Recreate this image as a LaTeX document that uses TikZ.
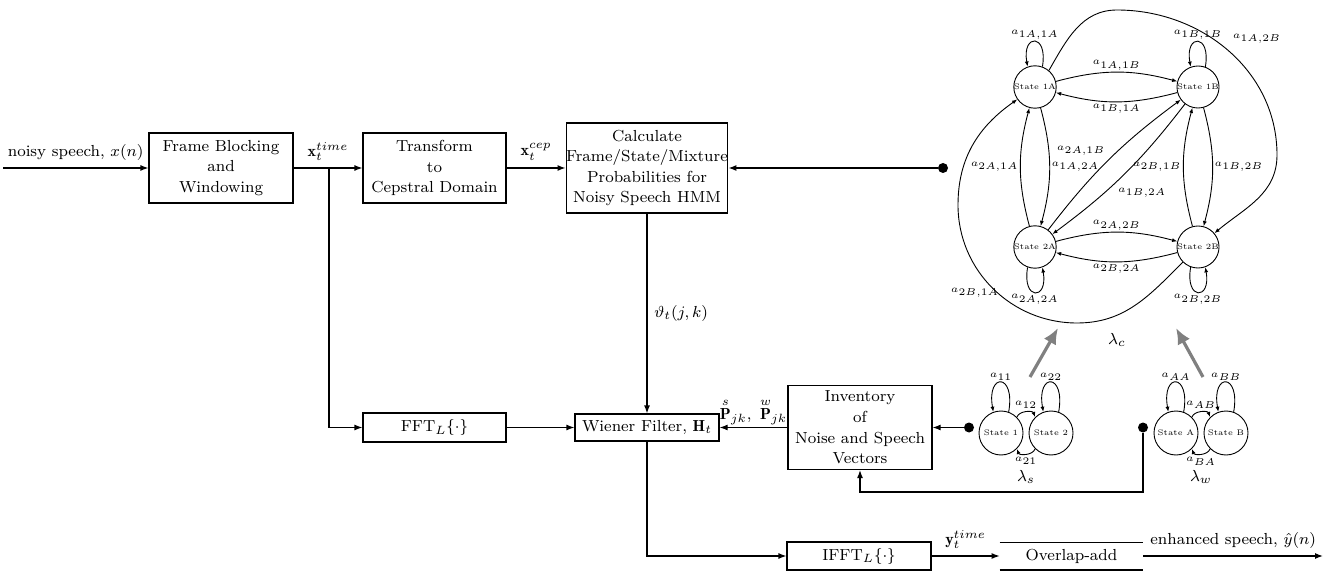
\documentclass[tikz,border=0pt]{standalone}
\usepackage{amsmath}
\usepackage{fontspec}
\usetikzlibrary{arrows.meta}
\begin{document}
\begin{tikzpicture}[x=0.5pt,y=0.5pt,
  mf/.style={font=\fontsize{8}{10.3}\selectfont},
  box/.style={draw, line width=0.6pt, align=center, inner sep=0pt, mf},
  arr/.style={line width=0.6pt, -{Latex[length=4pt,width=3pt]}},
  ln/.style={line width=0.6pt},
  dot/.style={circle, fill, inner sep=0pt, minimum size=5pt},
  st/.style={circle, draw, line width=0.45pt, minimum size=19pt, inner sep=0pt, font=\fontsize{4}{5}\selectfont},
  sst/.style={st, minimum size=22pt},
  tl/.style={font=\fontsize{5.5}{6}\selectfont, inner sep=0.8pt},
  stl/.style={font=\fontsize{5}{6}\selectfont, inner sep=0.6pt},
  harr/.style={line width=0.45pt, -{Latex[length=2.6pt,width=2pt]}},
  garr/.style={line width=1.6pt, black!50, -{Latex[length=8pt,width=7pt]}},
]
\useasboundingbox (0,0) rectangle (1328,-572);

% main blocks
\node[box, minimum width=72pt, minimum height=35pt] (frame) at (221,-168) {Frame Blocking\\and\\Windowing};
\node[box, minimum width=71.5pt, minimum height=35pt] (trans) at (434.5,-168) {Transform\\to\\Cepstral Domain};
\node[box, minimum width=80pt, minimum height=45pt] (calc) at (647,-168) {Calculate\\Frame/State/Mixture\\Probabilities for\\Noisy Speech HMM};
\node[box, minimum width=71.5pt, minimum height=14.5pt] (fft) at (434.5,-427.5) {FFT$_L\{\cdot\}$};
\node[box, minimum width=72pt, minimum height=13.5pt] (wien) at (647,-427.5) {Wiener Filter, $\mathbf{H}_t$};
\node[box, minimum width=72pt, minimum height=42pt] (inv) at (860,-427.5) {Inventory\\of\\Noise and Speech\\Vectors};
\node[box, minimum width=72pt, minimum height=14pt] (ifft) at (859,-556) {IFFT$_L\{\cdot\}$};
\node[mf, minimum width=71.5pt, minimum height=13.5pt, inner sep=0pt] (ola) at (1071.5,-556) {Overlap-add};

\coordinate (in) at (3,-168);
\coordinate (br) at (329,-168);
\node[dot] (d1) at (943,-168) {};
\node[dot] (d2) at (969,-427.5) {};
\node[dot] (d3) at (1143,-427.5) {};
\coordinate (fb) at (1143,-492);
\coordinate (out) at (1323,-556);

% connectors
\draw[arr] (in) -- node[above,mf]{noisy speech, $x(n)$} (frame);
\draw[arr] (frame) -- node[above,mf]{$\mathbf{x}_t^{time}$} (trans);
\draw[arr] (trans) -- node[above,mf]{$\mathbf{x}_t^{cep}$} (calc);
\draw[arr] (d1) -- (calc);
\draw[arr] (calc) -- node[right,mf]{$\vartheta_t(j,k)$} (wien);
\draw[arr] (br) |- (fft);
\draw[arr] (fft) -- (wien);
\draw[arr] (inv) -- node[above,mf,inner sep=1pt]{$\overset{s}{\mathbf{P}}_{jk},\ \overset{w}{\mathbf{P}}_{jk}$} (wien);
\draw[arr] (d2) -- (inv);
\draw[arr] (d3) -- (fb) -| (inv);
\draw[arr] (wien) |- (ifft);
\draw[arr] (ifft) -- node[above,mf]{$\mathbf{y}_t^{time}$} (ola);
\draw[arr] (ola) -- node[above,mf]{enhanced speech, $\hat{y}(n)$} (out);
\draw[ln] (ola.north west) -- (ola.north east) (ola.south west) -- (ola.south east);

% big HMM
\node[st] (A1) at (1035,-87) {State 1A};
\node[st] (B1) at (1198,-87) {State 1B};
\node[st] (A2) at (1035,-247) {State 2A};
\node[st] (B2) at (1198,-247) {State 2B};

\draw[harr] (A1) to[bend left=15] node[tl,above]{$a_{1A,1B}$} (B1);
\draw[harr] (B1) to[bend left=15] node[tl,below]{$a_{1B,1A}$} (A1);
\draw[harr] (A2) to[bend left=15] node[tl,above]{$a_{2A,2B}$} (B2);
\draw[harr] (B2) to[bend left=15] node[tl,below]{$a_{2B,2A}$} (A2);
\draw[harr] (A2) to[bend left=15] node[tl,left]{$a_{2A,1A}$} (A1);
\draw[harr] (A1) to[bend left=15] node[tl,right]{$a_{1A,2A}$} (A2);
\draw[harr] (B2) to[bend left=15] node[tl,left]{$a_{2B,1B}$} (B1);
\draw[harr] (B1) to[bend left=15] node[tl,right]{$a_{1B,2B}$} (B2);
\draw[harr] (A2) to[bend left=8] node[tl,above left=1pt,pos=0.5]{$a_{2A,1B}$} (B1);
\draw[harr] (B1) to[bend left=8] node[tl,below right=1pt,pos=0.58]{$a_{1B,2A}$} (A2);

\draw[harr] (A1.70) .. controls +(80:34) and +(100:34) .. node[tl,above]{$a_{1A,1A}$} (A1.110);
\draw[harr] (B1.70) .. controls +(80:34) and +(100:34) .. node[tl,above]{$a_{1B,1B}$} (B1.110);
\draw[harr] (A2.250) .. controls +(260:34) and +(280:34) .. node[tl,below]{$a_{2A,2A}$} (A2.290);
\draw[harr] (B2.250) .. controls +(260:34) and +(280:34) .. node[tl,below]{$a_{2B,2B}$} (B2.290);

\coordinate (t1) at (1117,-10);
\coordinate (t2) at (1277,-155);
\coordinate (u1) at (1077,-323);
\coordinate (u2) at (958,-205);
\draw[harr] (A1.50) to[out=60,in=180] (t1) to[out=0,in=90] (t2) to[out=270,in=40] (B2.40);
\draw[harr] (B2.225) to[out=225,in=0] (u1) to[out=180,in=270] (u2) to[out=90,in=215] (A1.215);
\node[tl] at (1257,-39) {$a_{1A,2B}$};
\node[tl] at (975,-293) {$a_{2B,1A}$};
\node[mf] (lc) at (1117,-340) {$\lambda_c$};

% small HMMs
\node[sst] (s1) at (1001,-433) {State 1};
\node[sst] (s2) at (1051,-433) {State 2};
\node[sst] (sa) at (1176,-433) {State A};
\node[sst] (sb) at (1226,-433) {State B};

\draw[harr] (s1.45) to[out=70,in=110] node[stl,above=1pt]{$a_{12}$} (s2.135);
\draw[harr] (s2.225) to[out=250,in=290] node[stl,below=1pt]{$a_{21}$} (s1.315);
\draw[harr] (sa.45) to[out=70,in=110] node[stl,above=1pt]{$a_{AB}$} (sb.135);
\draw[harr] (sb.225) to[out=250,in=290] node[stl,below=1pt]{$a_{BA}$} (sa.315);
\draw[harr] (s1.70) .. controls +(80:40) and +(100:40) .. node[stl,above]{$a_{11}$} (s1.110);
\draw[harr] (s2.70) .. controls +(80:40) and +(100:40) .. node[stl,above]{$a_{22}$} (s2.110);
\draw[harr] (sa.70) .. controls +(80:40) and +(100:40) .. node[stl,above]{$a_{AA}$} (sa.110);
\draw[harr] (sb.70) .. controls +(80:40) and +(100:40) .. node[stl,above]{$a_{BB}$} (sb.110);
\node[mf] (ls) at (1026,-477) {$\lambda_s$};
\node[mf] (lw) at (1201,-477) {$\lambda_w$};

% gray arrows
\coordinate (g1s) at (1030,-377);
\coordinate (g1e) at (1058,-328);
\coordinate (g2s) at (1203,-377);
\coordinate (g2e) at (1176,-328);
\draw[garr] (g1s) -- (g1e);
\draw[garr] (g2s) -- (g2e);
\end{tikzpicture}
\end{document}
